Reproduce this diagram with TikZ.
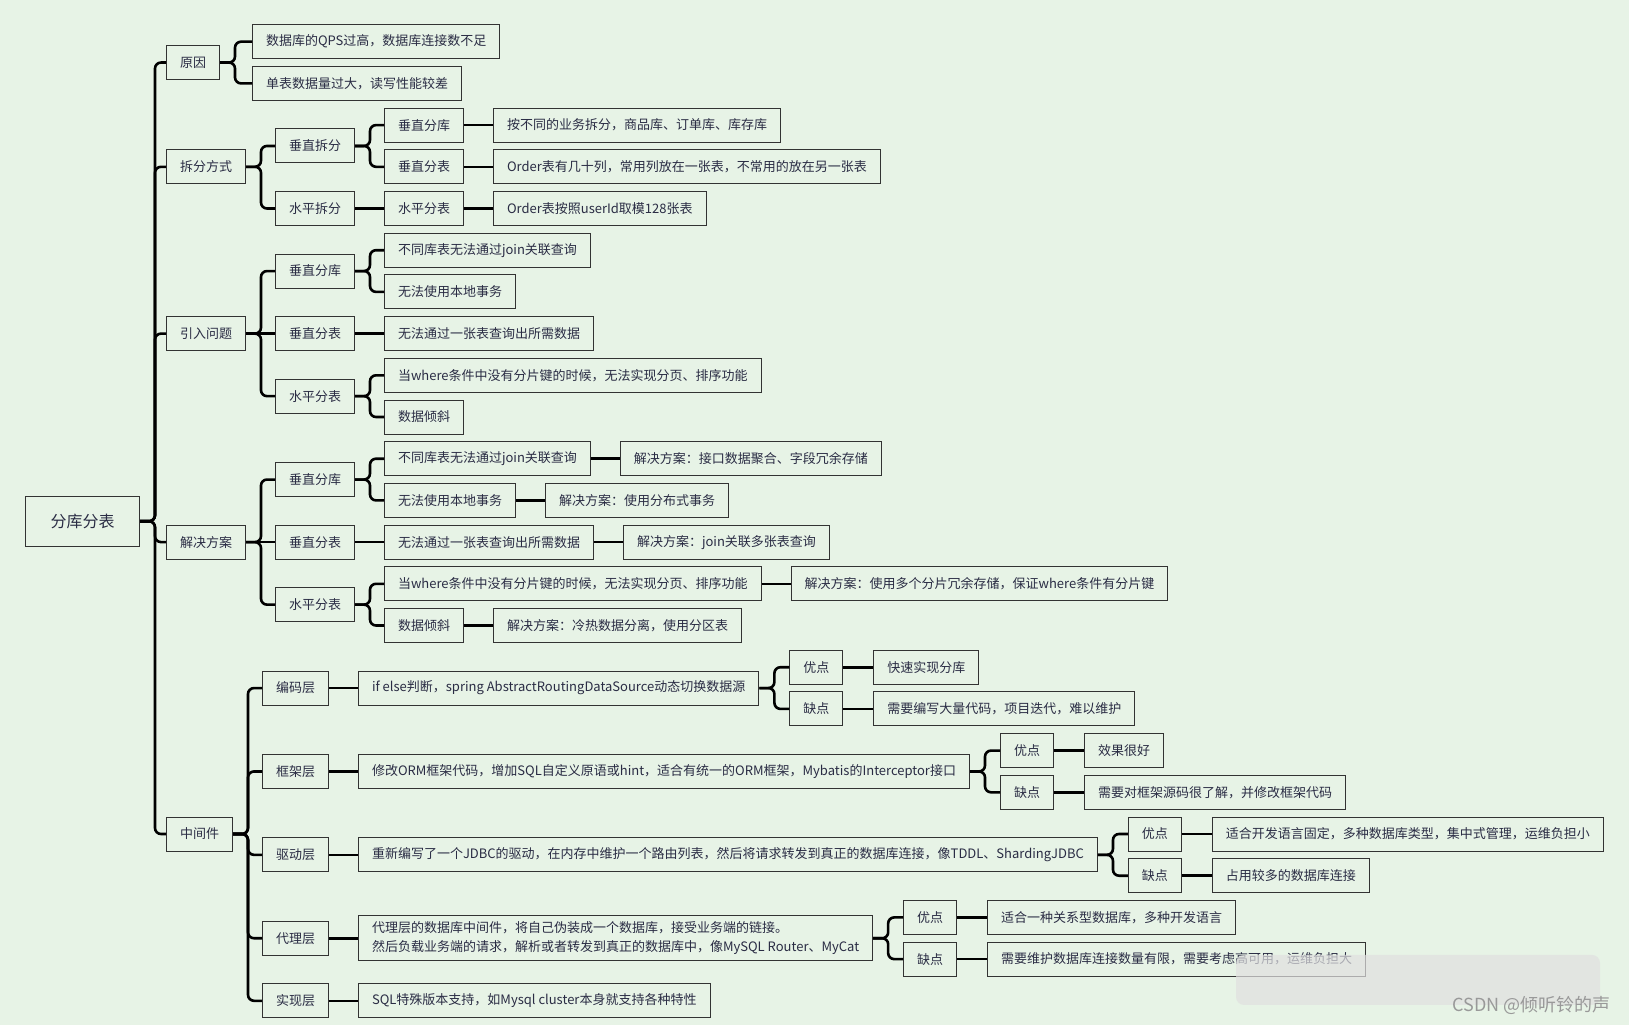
\documentclass[tikz,border=0pt]{standalone}
\usepackage{fontspec}
\setmainfont{Noto Sans CJK SC}
\usetikzlibrary{positioning}
\definecolor{MapBack}{HTML}{E7F3E6}
\definecolor{MapInk}{HTML}{2A2C44}
\definecolor{MapLine}{HTML}{333333}
\tikzset{topic/.style={draw=MapLine,line width=1pt,inner xsep=13.5pt,inner ysep=0pt,
 minimum height=34pt,anchor=west,text=MapInk,font=\fontsize{13}{19}\selectfont},
 link/.style={draw=black,line width=2.6pt,rounded corners=6pt},
 rowup/.style={yshift=20.85pt},rowdn/.style={yshift=-20.85pt}}
\begin{document}
\begin{tikzpicture}[x=1pt,y=-41.7pt]
\path[use as bounding box,fill=MapBack] (0pt,0pt) rectangle (1629pt,-1025pt);
% root and first level
\node[topic,minimum width=114pt,minimum height=50pt,inner xsep=0pt,
 font=\fontsize{16}{20}\selectfont] (root) at (25,12.5) {分库分表};
\node[topic] (yuanyin) at (166,1.5) {原因};
\node[topic] (chaifen) at (166,4) {拆分方式};
\node[topic] (yinru) at (166,8) {引入问题};
\node[topic] (jiejue) at (166,13) {解决方案};
\node[topic] (zhongjian) at (166,20) {中间件};
% 原因
\node[topic] (qps) at (252,1) {数据库的QPS过高，数据库连接数不足};
\node[topic] (danbiao) at (252,2) {单表数据量过大，读写性能较差};
% 拆分方式
\node[topic] (cfv) at (275,3.5) {垂直拆分};
\node[topic] (cfh) at (275,5) {水平拆分};
\node[topic] (cfvk) at (384,3) {垂直分库};
\node[topic] (cfvb) at (384,4) {垂直分表};
\node[topic] (cfhb) at (384,5) {水平分表};
\node[topic,right=29pt of cfvk] (cfvkt) {按不同的业务拆分，商品库、订单库、库存库};
\node[topic,right=29pt of cfvb] (cfvbt) {Order表有几十列，常用列放在一张表，不常用的放在另一张表};
\node[topic,right=29pt of cfhb] (cfhbt) {Order表按照userId取模128张表};
% 引入问题
\node[topic] (yrk) at (275,6.5) {垂直分库};
\node[topic] (yrb) at (275,8) {垂直分表};
\node[topic] (yrh) at (275,9.5) {水平分表};
\node[topic] (yrk1) at (384,6) {不同库表无法通过join关联查询};
\node[topic] (yrk2) at (384,7) {无法使用本地事务};
\node[topic] (yrb1) at (384,8) {无法通过一张表查询出所需数据};
\node[topic] (yrh1) at (384,9) {当where条件中没有分片键的时候，无法实现分页、排序功能};
\node[topic] (yrh2) at (384,10) {数据倾斜};
% 解决方案
\node[topic] (jjk) at (275,11.5) {垂直分库};
\node[topic] (jjb) at (275,13) {垂直分表};
\node[topic] (jjh) at (275,14.5) {水平分表};
\node[topic] (jjk1) at (384,11) {不同库表无法通过join关联查询};
\node[topic] (jjk2) at (384,12) {无法使用本地事务};
\node[topic] (jjb1) at (384,13) {无法通过一张表查询出所需数据};
\node[topic] (jjh1) at (384,14) {当where条件中没有分片键的时候，无法实现分页、排序功能};
\node[topic] (jjh2) at (384,15) {数据倾斜};
\node[topic,right=29pt of jjk1] (fa1) {解决方案：接口数据聚合、字段冗余存储};
\node[topic,right=29pt of jjk2] (fa2) {解决方案：使用分布式事务};
\node[topic,right=29pt of jjb1] (fa3) {解决方案：join关联多张表查询};
\node[topic,right=29pt of jjh1] (fa4) {解决方案：使用多个分片冗余存储，保证where条件有分片键};
\node[topic,right=29pt of jjh2] (fa5) {解决方案：冷热数据分离，使用分区表};
% 中间件
\node[topic] (bm) at (262,16.5) {编码层};
\node[topic] (kj) at (262,18.5) {框架层};
\node[topic] (qd) at (262,20.5) {驱动层};
\node[topic] (dl) at (262,22.5) {代理层};
\node[topic] (sx) at (262,24) {实现层};
\node[topic,right=29pt of bm] (bmt) {if else判断，spring AbstractRoutingDataSource动态切换数据源};
\node[topic,right=29pt of kj] (kjt) {修改ORM框架代码，增加SQL自定义原语或hint，适合有统一的ORM框架，Mybatis的Interceptor接口};
\node[topic,right=29pt of qd] (qdt) {重新编写了一个JDBC的驱动，在内存中维护一个路由列表，然后将请求转发到真正的数据库连接，像TDDL、ShardingJDBC};
\node[topic,right=29pt of dl,align=left,inner ysep=6pt] (dlt) {代理层的数据库中间件，将自己伪装成一个数据库，接受业务端的链接。\\然后负载业务端的请求，解析或者转发到真正的数据库中，像MySQL Router、MyCat};
\node[topic,right=29pt of sx] (sxt) {SQL特殊版本支持，如Mysql cluster本身就支持各种特性};
\node[topic,right=30pt of bmt,rowup] (bmy) {优点};
\node[topic,right=30pt of bmt,rowdn] (bmq) {缺点};
\node[topic,right=30pt of bmy] (bmy1) {快速实现分库};
\node[topic,right=30pt of bmq] (bmq1) {需要编写大量代码，项目迭代，难以维护};
\node[topic,right=30pt of kjt,rowup] (kjy) {优点};
\node[topic,right=30pt of kjt,rowdn] (kjq) {缺点};
\node[topic,right=30pt of kjy] (kjy1) {效果很好};
\node[topic,right=30pt of kjq] (kjq1) {需要对框架源码很了解，并修改框架代码};
\node[topic,right=30pt of qdt,rowup] (qdy) {优点};
\node[topic,right=30pt of qdt,rowdn] (qdq) {缺点};
\node[topic,right=30pt of qdy] (qdy1) {适合开发语言固定，多种数据库类型，集中式管理，运维负担小};
\node[topic,right=30pt of qdq] (qdq1) {占用较多的数据库连接};
\node[topic,right=30pt of dlt,rowup] (dly) {优点};
\node[topic,right=30pt of dlt,rowdn] (dlq) {缺点};
\node[topic,right=30pt of dly] (dly1) {适合一种关系型数据库，多种开发语言};
\node[topic,right=30pt of dlq] (dlq1) {需要维护数据库连接数量有限，需要考虑高可用，运维负担大};
% forks
\foreach \a/\b in {root/yuanyin,root/chaifen,root/yinru,root/jiejue,root/zhongjian,
 yuanyin/qps,yuanyin/danbiao,chaifen/cfv,chaifen/cfh,cfv/cfvk,cfv/cfvb,
 yinru/yrk,yinru/yrh,yrk/yrk1,yrk/yrk2,yrh/yrh1,yrh/yrh2,
 jiejue/jjk,jiejue/jjh,jjk/jjk1,jjk/jjk2,jjh/jjh1,jjh/jjh2,
 zhongjian/bm,zhongjian/kj,zhongjian/qd,zhongjian/dl,zhongjian/sx,
 bmt/bmy,bmt/bmq,kjt/kjy,kjt/kjq,qdt/qdy,qdt/qdq,dlt/dly,dlt/dlq}
 \draw[link] (\a.east) -- ++(15,0) |- (\b.west);
% straight ones
\foreach \a/\b in {cfh/cfhb,cfvk/cfvkt,cfvb/cfvbt,cfhb/cfhbt,yinru/yrb,yrb/yrb1,
 jiejue/jjb,jjb/jjb1,jjk1/fa1,jjk2/fa2,jjb1/fa3,jjh1/fa4,jjh2/fa5,
 bm/bmt,kj/kjt,qd/qdt,dl/dlt,sx/sxt,bmy/bmy1,bmq/bmq1,kjy/kjy1,kjq/kjq1,
 qdy/qdy1,qdq/qdq1,dly/dly1,dlq/dlq1}
 \draw[link] (\a.east) -- (\b.west);
% blur patch and mark
\fill[black!12,opacity=.7,rounded corners=8pt] (1236,22.9) rectangle (1600,24.1);
\node[anchor=east,text=black!40,font=\fontsize{18}{22}\selectfont] (mark) at (1614,24.12) {CSDN @倾听铃的声};
\end{tikzpicture}
\end{document}
